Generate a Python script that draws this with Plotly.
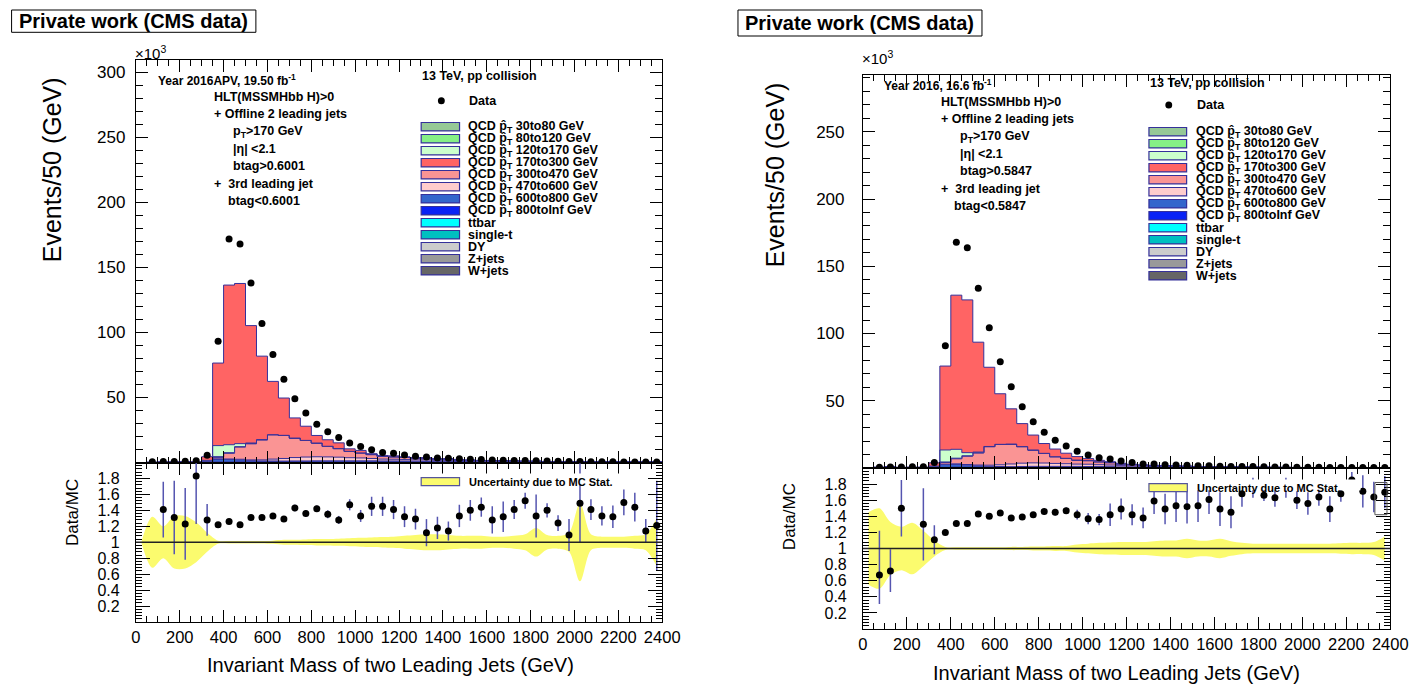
import plotly.graph_objects as go

W, H = 1426, 686
FONT = "Liberation Sans, Arial, Helvetica, sans-serif"
NB = 48
EDGES = list(range(0, 2401, 50))
CENTERS = [e + 25 for e in EDGES[:-1]]

# ---------------- LEFT panel (2016APV) : events x10^3 ----------------
L_data = [None, 0.55, 0.8, 0.85, 1.0, 1.3, 5.6, 93.3, 172, 168, 138, 107, 83, 64, 49, 38, 29.5, 23.6,
          19.3, 15.0, 12.4, 9.9, 7.7, 7.2, 5.8, 4.9, 4.2, 3.4, 3.3, 2.8, 2.5, 2.3, 2.0, 1.8, 1.6, 1.45,
          1.25, 1.1, 0.95, 0.85, 0.75, 0.65, 0.58, 0.5, 0.45, 0.4, 0.34, 0.3]
L_qcd30 = [0, 0, 0, 0, 0, 0, 0.05, 0.1, 0.08, 0.05, 0, 0, 0, 0, 0, 0, 0, 0, 0, 0, 0, 0, 0, 0,
           0, 0, 0, 0, 0, 0, 0, 0, 0, 0, 0, 0, 0, 0, 0, 0, 0, 0, 0, 0, 0, 0, 0, 0]
L_qcd80 = [0, 0.05, 0.05, 0.05, 0.05, 0.05, 0.1, 0.4, 0.3, 0.15, 0.05, 0, 0, 0, 0, 0, 0, 0, 0, 0, 0, 0, 0, 0,
           0, 0, 0, 0, 0, 0, 0, 0, 0, 0, 0, 0, 0, 0, 0, 0, 0, 0, 0, 0, 0, 0, 0, 0]
L_qcd120 = [0, 0.05, 0.1, 0.1, 0.1, 0.1, 0.7, 8.5, 6.1, 2.3, 0.45, 0.1, 0, 0, 0, 0, 0, 0, 0, 0, 0, 0, 0, 0,
            0, 0, 0, 0, 0, 0, 0, 0, 0, 0, 0, 0, 0, 0, 0, 0, 0, 0, 0, 0, 0, 0, 0, 0]
L_qcd170 = [0, 0.2, 0.4, 0.45, 0.55, 0.5, 2.8, 63.5, 122.8, 123.2, 90.3, 64.2, 41.0, 28.7, 15.5, 10.9,
            5.8, 5.0, 4.4, 1.9, 1.9, 0.7, 0.5, 0.7, 0.55, 0.45, 0.45, 0.3, 0.3, 0.15, 0.12, 0.1, 0.1,
            0.08, 0.06, 0.04, 0.04, 0.04, 0.03, 0.03, 0.01, 0.01, 0.01, 0.01, 0, 0, 0, 0]
L_qcd300 = [0, 0, 0, 0, 0, 0, 0.3, 1.2, 4.5, 9.5, 12.5, 15.5, 18.8, 17.8, 15.0, 12.8, 10.6, 8.2, 6.6,
            4.9, 3.9, 3.0, 2.2, 1.9, 1.6, 1.3, 1.2, 0.9, 0.9, 0.6, 0.5, 0.45, 0.44, 0.38, 0.3, 0.25,
            0.25, 0.2, 0.2, 0.2, 0.12, 0.11, 0.1, 0.09, 0.07, 0.06, 0.07, 0.06]
L_qcd470 = [0, 0, 0, 0, 0, 0, 0, 0.2, 0.3, 0.5, 0.6, 0.8, 1.4, 2.0, 2.6, 3.0, 3.1, 3.0, 2.8, 2.4, 2.2,
            1.8, 1.4, 1.3, 1.1, 1.0, 1.0, 0.8, 0.8, 0.6, 0.5, 0.45, 0.44, 0.38, 0.32, 0.27, 0.27, 0.22,
            0.22, 0.22, 0.14, 0.13, 0.13, 0.11, 0.09, 0.08, 0.09, 0.07]
L_qcd600 = [0, 0, 0, 0, 0, 0, 0.3, 2.2, 2.0, 1.5, 1.0, 0.7, 0.6, 0.6, 0.7, 0.7, 0.8, 0.8, 0.8, 0.8,
            0.8, 0.8, 0.7, 0.7, 0.7, 0.6, 0.6, 0.5, 0.5, 0.4, 0.35, 0.3, 0.3, 0.26, 0.22, 0.19, 0.19,
            0.16, 0.16, 0.16, 0.11, 0.1, 0.1, 0.08, 0.07, 0.07, 0.07, 0.06]
L_qcd800 = [0, 0, 0, 0, 0, 0, 0, 0, 0, 0.2, 0.2, 0.2, 0.3, 0.3, 0.3, 0.3, 0.3, 0.3, 0.3, 0.3, 0.3,
            0.3, 0.3, 0.3, 0.3, 0.3, 0.35, 0.3, 0.3, 0.25, 0.25, 0.22, 0.22, 0.2, 0.18, 0.16, 0.15,
            0.14, 0.13, 0.14, 0.1, 0.09, 0.09, 0.08, 0.06, 0.06, 0.06, 0.05]
L_ttbar = [0, 0, 0, 0, 0, 0, 0.08, 0.18, 0.18, 0.14, 0.09, 0.12, 0.12, 0.09, 0.09, 0.09, 0.09, 0.09,
           0.09, 0.09, 0.09, 0.09, 0.09, 0.09, 0.07, 0.07, 0.07, 0.05, 0.05, 0.05, 0.04, 0.04, 0.03,
           0.03, 0.03, 0.02, 0.02, 0.02, 0.02, 0.02, 0.01, 0.01, 0.01, 0.01, 0.01, 0.01, 0.01, 0.01]
L_singlet = [0, 0, 0, 0, 0, 0, 0.03, 0.06, 0.06, 0.05, 0.04, 0.05, 0.05, 0.03, 0.03, 0.03, 0.03, 0.03,
             0.03, 0.03, 0.03, 0.03, 0.03, 0.03, 0.02, 0.02, 0.02, 0.01, 0.01, 0.01, 0.01, 0.01, 0.01,
             0.01, 0.01, 0.01, 0.01, 0.01, 0.01, 0.01, 0, 0, 0, 0, 0, 0, 0, 0]
L_dy = [0, 0, 0, 0, 0, 0, 0.03, 0.06, 0.06, 0.04, 0.03, 0.04, 0.04, 0.03, 0.03, 0.02, 0.02, 0.02,
        0.02, 0.02, 0.02, 0.02, 0.02, 0.02, 0.01, 0.01, 0.01, 0.01, 0.01, 0.01, 0.01, 0.01, 0.01,
        0.01, 0, 0, 0, 0, 0, 0, 0, 0, 0, 0, 0, 0, 0, 0]
L_zjets = [0, 0, 0, 0, 0, 0, 0.03, 0.05, 0.05, 0.04, 0.02, 0.05, 0.05, 0.03, 0.03, 0.03, 0.03, 0.03,
           0.03, 0.03, 0.03, 0.03, 0.03, 0.03, 0.02, 0.02, 0.02, 0.02, 0.02, 0.02, 0.01, 0.01, 0.01,
           0.01, 0.01, 0.01, 0.01, 0.01, 0, 0, 0, 0, 0, 0, 0, 0, 0, 0]
L_wjets = [0, 0, 0, 0, 0, 0, 0.03, 0.05, 0.05, 0.03, 0.02, 0.04, 0.04, 0.02, 0.02, 0.03, 0.03, 0.03,
           0.03, 0.03, 0.03, 0.03, 0.03, 0.03, 0.02, 0.02, 0.02, 0.02, 0.02, 0.02, 0.01, 0.01, 0.01,
           0.01, 0.01, 0.01, 0.01, 0.01, 0, 0, 0, 0, 0, 0, 0, 0, 0, 0]
L_ratio = [None, None, 1.41, 1.31, 1.23, 1.83, 1.28, 1.22, 1.26, 1.22, 1.31, 1.31, 1.33, 1.29, 1.43,
           1.36, 1.42, 1.35, 1.28, 1.47, 1.33, 1.45, 1.45, 1.41, 1.32, 1.29, 1.12, 1.18, 1.14, 1.33,
           1.40, 1.44, 1.28, 1.32, 1.41, 1.52, 1.33, 1.40, 1.24, 1.09, 1.49, 1.41, 1.33, 1.32, 1.50,
           1.44, 1.14, 1.21]
L_ratio_err = [0, 0, 0.35, 0.46, 0.45, 0.6, 0.2, 0.02, 0.02, 0.02, 0.02, 0.02, 0.02, 0.03, 0.04, 0.04,
               0.04, 0.05, 0.05, 0.07, 0.075, 0.12, 0.12, 0.12, 0.13, 0.13, 0.17, 0.14, 0.12, 0.14,
               0.13, 0.12, 0.17, 0.19, 0.12, 0.1, 0.27, 0.09, 0.1, 0.2, 0.5, 0.13, 0.12, 0.14, 0.16,
               0.18, 0.15, 0.56]
L_band = [0.0, 0.32, 0.2, 0.33, 0.33, 0.25, 0.12, 0.02, 0.015, 0.015, 0.015, 0.015, 0.02, 0.03, 0.03,
          0.035, 0.04, 0.04, 0.045, 0.05, 0.055, 0.06, 0.065, 0.07, 0.08, 0.09, 0.1, 0.1, 0.09, 0.08,
          0.08, 0.08, 0.07, 0.07, 0.08, 0.1, 0.18, 0.09, 0.08, 0.12, 0.49, 0.1, 0.07, 0.07, 0.07,
          0.08, 0.1, 0.3]

# ---------------- RIGHT panel (2016) : events x10^3 ----------------
R_data = [None, 0.5, 0.8, 0.8, 0.9, 0.9, 4.0, 90.9, 167.8, 163.8, 133.6, 104.3, 79.0, 60.5, 45.6,
          34.4, 26.5, 20.6, 16.4, 12.4, 9.7, 7.7, 6.7, 5.2, 4.0, 3.0, 3.0, 2.5, 2.3, 2.0, 1.75, 1.6,
          1.35, 1.15, 1.2, 1.05, 0.9, 0.8, 0.75, 0.65, 0.56, 0.52, 0.43, 0.44, 0.43, 0.36, 0.31, 0.29]
R_qcd30 = [0, 0, 0, 0, 0, 0, 0.03, 0.1, 0.1, 0.05, 0, 0, 0, 0, 0, 0, 0, 0, 0, 0, 0, 0, 0, 0,
           0, 0, 0, 0, 0, 0, 0, 0, 0, 0, 0, 0, 0, 0, 0, 0, 0, 0, 0, 0, 0, 0, 0, 0]
R_qcd80 = [0, 0.1, 0.15, 0.08, 0.1, 0.1, 0.1, 0.4, 0.3, 0.15, 0.05, 0, 0, 0, 0, 0, 0, 0, 0, 0, 0, 0,
           0, 0, 0, 0, 0, 0, 0, 0, 0, 0, 0, 0, 0, 0, 0, 0, 0, 0, 0, 0, 0, 0, 0, 0, 0, 0]
R_qcd120 = [0, 0.2, 0.25, 0.12, 0.15, 0.15, 0.5, 8.9, 6.6, 2.3, 0.5, 0.1, 0, 0, 0, 0, 0, 0, 0, 0, 0,
            0, 0, 0, 0, 0, 0, 0, 0, 0, 0, 0, 0, 0, 0, 0, 0, 0, 0, 0, 0, 0, 0, 0, 0, 0, 0, 0]
R_qcd170 = [0, 0.45, 0.7, 0.35, 0.45, 0.45, 2.4, 62.4, 114.6, 113.6, 81.7, 58.9, 37.6, 26.2, 17.1,
            11.1, 7.3, 5.7, 3.8, 2.6, 1.5, 1.05, 0.7, 0.5, 0.3, 0.2, 0.2, 0.15, 0.12, 0.1, 0.08,
            0.07, 0.06, 0.05, 0.04, 0.04, 0.03, 0.03, 0.02, 0.02, 0.02, 0.01, 0.01, 0.01, 0.01,
            0.01, 0.01, 0.01]
R_qcd300 = [0, 0, 0, 0, 0, 0, 0.3, 1.2, 3.8, 6.3, 9.1, 13.8, 15.2, 14.8, 12.3, 9.6, 7.2, 5.0, 4.0,
            3.0, 2.7, 2.2, 1.8, 1.3, 1.0, 0.8, 0.7, 0.6, 0.52, 0.45, 0.4, 0.34, 0.3, 0.27, 0.23,
            0.2, 0.18, 0.16, 0.15, 0.13, 0.12, 0.11, 0.1, 0.09, 0.08, 0.07, 0.06, 0.06]
R_qcd470 = [0, 0, 0, 0, 0, 0, 0, 0.3, 0.4, 0.5, 0.6, 0.8, 1.3, 2.0, 2.5, 2.6, 2.5, 2.2, 2.0, 1.7,
            1.7, 1.4, 1.2, 0.9, 0.75, 0.6, 0.55, 0.5, 0.45, 0.4, 0.35, 0.3, 0.27, 0.24, 0.21, 0.19,
            0.17, 0.15, 0.14, 0.12, 0.11, 0.1, 0.09, 0.08, 0.07, 0.07, 0.06, 0.05]
R_qcd600 = [0, 0, 0, 0, 0, 0, 0.3, 2.0, 2.0, 1.5, 1.0, 0.6, 0.5, 0.5, 0.6, 0.7, 0.7, 0.7, 0.7, 0.7,
            0.6, 0.6, 0.55, 0.45, 0.4, 0.32, 0.3, 0.27, 0.24, 0.2, 0.18, 0.16, 0.15, 0.13, 0.12,
            0.1, 0.09, 0.08, 0.07, 0.07, 0.06, 0.05, 0.05, 0.04, 0.04, 0.03, 0.03, 0.03]
R_qcd800 = [0, 0, 0, 0, 0, 0, 0, 0, 0.2, 0.2, 0.3, 0.3, 0.3, 0.3, 0.3, 0.3, 0.3, 0.3, 0.3, 0.3, 0.3,
            0.3, 0.3, 0.25, 0.25, 0.2, 0.2, 0.18, 0.16, 0.14, 0.12, 0.11, 0.1, 0.09, 0.08, 0.07,
            0.07, 0.07, 0.06, 0.05, 0.04, 0.04, 0.03, 0.03, 0.03, 0.03, 0.03, 0.02]
R_ttbar = [0, 0, 0, 0, 0, 0, 0.08, 0.2, 0.2, 0.15, 0.12, 0.15, 0.12, 0.08, 0.08, 0.08, 0.08, 0.08,
           0.08, 0.08, 0.08, 0.06, 0.06, 0.04, 0.04, 0.04, 0.03, 0.03, 0.02, 0.02, 0.02, 0.01, 0.01,
           0.01, 0.01, 0.01, 0.01, 0.01, 0.01, 0.01, 0.01, 0, 0, 0, 0, 0, 0, 0]
R_singlet = [0, 0, 0, 0, 0, 0, 0.03, 0.08, 0.08, 0.06, 0.05, 0.06, 0.05, 0.03, 0.03, 0.03, 0.03,
             0.03, 0.03, 0.03, 0.03, 0.02, 0.02, 0.02, 0.02, 0.01, 0.01, 0.01, 0.01, 0.01, 0.01, 0,
             0, 0, 0, 0, 0, 0, 0, 0, 0, 0, 0, 0, 0, 0, 0, 0]
R_dy = [0, 0, 0, 0, 0, 0, 0.03, 0.07, 0.07, 0.06, 0.04, 0.06, 0.04, 0.03, 0.03, 0.03, 0.03, 0.03,
        0.03, 0.03, 0.03, 0.02, 0.02, 0.01, 0.01, 0.01, 0.01, 0, 0, 0, 0, 0, 0, 0, 0, 0, 0, 0, 0,
        0, 0, 0, 0, 0, 0, 0, 0, 0]
R_zjets = [0, 0, 0, 0, 0, 0, 0.03, 0.08, 0.08, 0.07, 0.05, 0.07, 0.05, 0.03, 0.03, 0.03, 0.03, 0.03,
           0.03, 0.03, 0.03, 0.03, 0.03, 0.02, 0.02, 0.01, 0.01, 0.01, 0.01, 0, 0, 0, 0, 0, 0, 0,
           0, 0, 0, 0, 0, 0, 0, 0, 0, 0, 0, 0]
R_wjets = [0, 0, 0, 0, 0, 0, 0.03, 0.07, 0.07, 0.06, 0.04, 0.06, 0.04, 0.03, 0.03, 0.03, 0.03, 0.03,
           0.03, 0.03, 0.03, 0.02, 0.02, 0.02, 0.01, 0.01, 0.01, 0.01, 0, 0, 0, 0, 0, 0, 0, 0, 0,
           0, 0, 0, 0, 0, 0, 0, 0, 0, 0, 0]
R_ratio = [None, 0.67, 0.72, 1.50, None, 1.30, 1.11, 1.20, 1.31, 1.31, 1.43, 1.40, 1.44, 1.38, 1.39,
           1.42, 1.46, 1.45, 1.47, 1.42, 1.37, 1.36, 1.42, 1.49, 1.42, 1.38, 1.59, 1.49, 1.53, 1.52,
           1.53, 1.61, 1.49, 1.45, 1.68, 1.80, 1.66, 1.63, 1.80, 1.60, 1.56, 1.64, 1.49, 1.68, 1.85,
           1.71, 1.64, 1.70]
R_ratio_err_up = [0, 0.55, 0.27, 0.35, 0, 0.45, 0.18, 0.02, 0.02, 0.02, 0.02, 0.02, 0.02, 0.02, 0.03,
                  0.03, 0.04, 0.04, 0.04, 0.06, 0.07, 0.07, 0.14, 0.13, 0.13, 0.13, 0.16, 0.19, 0.2,
                  0.21, 0.2, 0.18, 0.21, 0.2, 0.16, 0.08, 0.07, 0.11, 0.08, 0.11, 0.14, 0.11, 0.16,
                  0.1, 0.1, 0.2, 0.19, 0.2]
R_ratio_err_dn = [0, 0.36, 0.26, 0.35, 0, 0.45, 0.18, 0.02, 0.02, 0.02, 0.02, 0.02, 0.02, 0.02, 0.03,
                  0.03, 0.04, 0.04, 0.04, 0.06, 0.07, 0.07, 0.14, 0.13, 0.13, 0.13, 0.16, 0.19, 0.2,
                  0.21, 0.2, 0.18, 0.21, 0.2, 0.16, 0.17, 0.07, 0.11, 0.17, 0.11, 0.14, 0.11, 0.16,
                  0.1, 0.08, 0.2, 0.19, 0.2]
R_band = [0.45, 0.5, 0.33, 0.27, 0.32, 0.22, 0.1, 0.02, 0.015, 0.015, 0.015, 0.015, 0.015, 0.02, 0.02,
          0.025, 0.025, 0.03, 0.03, 0.05, 0.06, 0.07, 0.075, 0.08, 0.08, 0.08, 0.09, 0.1, 0.1, 0.12,
          0.1, 0.1, 0.12, 0.09, 0.07, 0.06, 0.06, 0.06, 0.06, 0.06, 0.06, 0.06, 0.06, 0.065, 0.07,
          0.07, 0.08, 0.15]
# open box drawn at the last bins of the right ratio pad (x range GeV, ratio range)
R_edge_box = dict(x=[2330, 2385], y=[1.42, 1.82])

for arr in [L_data, L_qcd30, L_qcd80, L_qcd120, L_qcd170, L_qcd300, L_qcd470, L_qcd600, L_qcd800,
            L_ttbar, L_singlet, L_dy, L_zjets, L_wjets, L_ratio, L_ratio_err, L_band,
            R_data, R_qcd30, R_qcd80, R_qcd120, R_qcd170, R_qcd300, R_qcd470, R_qcd600, R_qcd800,
            R_ttbar, R_singlet, R_dy, R_zjets, R_wjets, R_ratio, R_ratio_err_up, R_ratio_err_dn, R_band]:
    assert len(arr) == NB, len(arr)

# ---------------- styling ----------------
OUTLINE = "#35309a"
YELLOW = "#fbfb6e"
ERRC = "#5555b0"
COLORS = {
    "qcd30": "#96c896", "qcd80": "#86f086", "qcd120": "#ccffcc", "qcd170": "#ff6464",
    "qcd300": "#fa9494", "qcd470": "#ffcccc", "qcd600": "#3366cc", "qcd800": "#0a22f5",
    "ttbar": "#00ffff", "singlet": "#00c0c0", "dy": "#cccccc", "zjets": "#999999", "wjets": "#666666",
}
LEGEND = [("qcd30", "QCD p\u0302<sub>T</sub> 30to80 GeV"), ("qcd80", "QCD p\u0302<sub>T</sub> 80to120 GeV"),
          ("qcd120", "QCD p\u0302<sub>T</sub> 120to170 GeV"), ("qcd170", "QCD p\u0302<sub>T</sub> 170to300 GeV"),
          ("qcd300", "QCD p\u0302<sub>T</sub> 300to470 GeV"), ("qcd470", "QCD p\u0302<sub>T</sub> 470to600 GeV"),
          ("qcd600", "QCD p\u0302<sub>T</sub> 600to800 GeV"), ("qcd800", "QCD p\u0302<sub>T</sub> 800toInf GeV"),
          ("ttbar", "ttbar"), ("singlet", "single-t"), ("dy", "DY"), ("zjets", "Z+jets"), ("wjets", "W+jets")]
STACK_ORDER = ["wjets", "zjets", "dy", "singlet", "ttbar", "qcd800", "qcd600", "qcd470", "qcd300",
               "qcd30", "qcd80", "qcd120", "qcd170"]

L_comps = dict(qcd30=L_qcd30, qcd80=L_qcd80, qcd120=L_qcd120, qcd170=L_qcd170, qcd300=L_qcd300,
               qcd470=L_qcd470, qcd600=L_qcd600, qcd800=L_qcd800, ttbar=L_ttbar, singlet=L_singlet,
               dy=L_dy, zjets=L_zjets, wjets=L_wjets)
R_comps = dict(qcd30=R_qcd30, qcd80=R_qcd80, qcd120=R_qcd120, qcd170=R_qcd170, qcd300=R_qcd300,
               qcd470=R_qcd470, qcd600=R_qcd600, qcd800=R_qcd800, ttbar=R_ttbar, singlet=R_singlet,
               dy=R_dy, zjets=R_zjets, wjets=R_wjets)

fig = go.Figure()


def add_stack(comps, xa, ya):
    cum = [0.0] * NB
    for i, key in enumerate(STACK_ORDER):
        cum = [c + v for c, v in zip(cum, comps[key])]
        fig.add_trace(go.Scatter(
            x=EDGES, y=cum + [cum[-1]], mode="lines",
            line=dict(shape="hv", color=OUTLINE, width=1),
            fill="tozeroy" if i == 0 else "tonexty", fillcolor=COLORS[key],
            xaxis=xa, yaxis=ya, showlegend=False, hoverinfo="skip"))


def add_data(data, xa, ya):
    fig.add_trace(go.Scatter(x=CENTERS, y=data, mode="markers",
                             marker=dict(color="black", size=7), xaxis=xa, yaxis=ya,
                             showlegend=False, hoverinfo="skip"))


def add_ratio(ratio, up, dn, band, xa, ya):
    lo = [1 - b for b in band]
    hi = [1 + b for b in band]
    fig.add_trace(go.Scatter(x=CENTERS, y=lo, mode="lines",
                             line=dict(width=0, shape="spline", smoothing=0.9, color=YELLOW),
                             xaxis=xa, yaxis=ya, showlegend=False, hoverinfo="skip"))
    fig.add_trace(go.Scatter(x=CENTERS, y=hi, mode="lines", fill="tonexty", fillcolor=YELLOW,
                             line=dict(width=0, shape="spline", smoothing=0.9, color=YELLOW),
                             xaxis=xa, yaxis=ya, showlegend=False, hoverinfo="skip"))
    # error bars first (invisible markers), then solid markers on top
    fig.add_trace(go.Scatter(x=CENTERS, y=ratio, mode="markers",
                             marker=dict(color="rgba(0,0,0,0)", size=1),
                             error_y=dict(type="data", array=up, arrayminus=dn, color=ERRC,
                                          thickness=1.5, width=0),
                             xaxis=xa, yaxis=ya, showlegend=False, hoverinfo="skip"))
    fig.add_trace(go.Scatter(x=CENTERS, y=ratio, mode="markers",
                             marker=dict(color="black", size=7),
                             xaxis=xa, yaxis=ya, showlegend=False, hoverinfo="skip"))


add_stack(L_comps, "x", "y")
add_data(L_data, "x", "y")
add_ratio(L_ratio, L_ratio_err, L_ratio_err, L_band, "x2", "y2")
add_stack(R_comps, "x3", "y3")
add_data(R_data, "x3", "y3")
add_ratio(R_ratio, R_ratio_err_up, R_ratio_err_dn, R_band, "x4", "y4")
fig.add_shape(type="rect", xref="x4", yref="y4", x0=R_edge_box["x"][0], x1=R_edge_box["x"][1],
              y0=R_edge_box["y"][0], y1=R_edge_box["y"][1], line=dict(color="#555555", width=1),
              fillcolor="rgba(0,0,0,0)")


def px(x, y):
    return x / W, 1 - y / H


def txt(x, y, s, size, bold=True, anchor="left", angle=0):
    fx, fy = px(x, y)
    fig.add_annotation(x=fx, y=fy, xref="paper", yref="paper", showarrow=False,
                       text=("<b>%s</b>" % s) if bold else s, xanchor=anchor, yanchor="middle",
                       textangle=angle, font=dict(family=FONT, size=size, color="black"))


def rect(x0, y0, x1, y1, fill, line="black", lw=1):
    a, b = px(x0, y0)
    c, d = px(x1, y1)
    fig.add_shape(type="rect", xref="paper", yref="paper", x0=a, y0=d, x1=c, y1=b,
                  fillcolor=fill, line=dict(color=line, width=lw))


def circle(x, y, r=3.5):
    a, b = px(x - r, y - r)
    c, d = px(x + r, y + r)
    fig.add_shape(type="circle", xref="paper", yref="paper", x0=a, y0=d, x1=c, y1=b,
                  fillcolor="black", line=dict(color="black", width=0))


PANELS = [
    dict(x0=133, x1=668, top=60, mid=462.5, bot=622, ymax=309.6, yt=[50, 100, 150, 200, 250, 300],
         year="Year 2016APV, 19.50 fb<sup>-1</sup>", tag="0.6001", dy=0),
    dict(x0=872, x1=1408, top=75, mid=468, bot=629, ymax=292.2, yt=[50, 100, 150, 200, 250],
         year="Year 2016, 16.6 fb<sup>-1</sup>", tag="0.5847", dy=5),
]

axis_base = dict(showline=True, linecolor="black", linewidth=1, mirror="ticks", ticks="inside",
                 tickcolor="black", showgrid=False, zeroline=False,
                 tickfont=dict(family=FONT, size=16.5, color="black"))
minor_base = dict(showline=True, linecolor="black", linewidth=1, mirror="ticks", ticks="inside",
                  tickcolor="black", showgrid=False, zeroline=False, showticklabels=False,
                  tickmode="array")
X_MINOR = list(range(0, 2401, 50))
Y_MINOR_MAIN = list(range(0, 311, 10))
Y_MINOR_RATIO = [round(0.04 * i, 2) for i in range(51)]

layout_axes = {}
for k, p in enumerate(PANELS):
    xd = [p["x0"] / W, p["x1"] / W]
    main_yd = [1 - p["mid"] / H, 1 - p["top"] / H]
    rat_yd = [1 - p["bot"] / H, 1 - p["mid"] / H]
    xm, xr = ("x", "x2") if k == 0 else ("x3", "x4")
    ym, yr = ("y", "y2") if k == 0 else ("y3", "y4")

    def nm(a):
        return a[0] + "axis" + a[1:]

    xticks = dict(tickmode="linear", tick0=0, dtick=200, ticklen=12)
    layout_axes[nm(xm)] = dict(axis_base, domain=xd, range=[0, 2400], anchor=ym,
                               showticklabels=False, **xticks)
    layout_axes[nm(xr)] = dict(axis_base, domain=xd, range=[0, 2400], anchor=yr,
                               showticklabels=True, ticklabelstandoff=0, **xticks)
    layout_axes[nm(ym)] = dict(axis_base, domain=main_yd, range=[0, p["ymax"]],
                               anchor=xm, tickmode="array", tickvals=p["yt"],
                               ticktext=[str(v) for v in p["yt"]], ticklen=12,
                               ticklabelstandoff=6 if k == 0 else 14,
                               tickfont=dict(family=FONT, size=17, color="black"))
    rv = [0.2, 0.4, 0.6, 0.8, 1.0, 1.2, 1.4, 1.6, 1.8]
    layout_axes[nm(yr)] = dict(axis_base, domain=rat_yd, range=[0, 2], anchor=xr,
                               tickmode="array", tickvals=rv,
                               ticktext=["0.2", "0.4", "0.6", "0.8", "1", "1.2", "1.4", "1.6", "1.8"],
                               ticklen=14, ticklabelstandoff=12,
                               tickfont=dict(family=FONT, size=16, color="black"))
    # minor-tick overlay axes (one per axis)
    base_n = 5 + 2 * k
    for j, (xa, ya) in enumerate([(xm, ym), (xr, yr)]):
        n = base_n + j
        ox, oy = "x%d" % n, "y%d" % n
        layout_axes["xaxis%d" % n] = dict(minor_base, overlaying=xa, anchor=ya, domain=xd,
                                          range=[0, 2400], tickvals=X_MINOR, ticklen=6)
        ydom = main_yd if j == 0 else rat_yd
        yrng = [0, p["ymax"]] if j == 0 else [0, 2]
        yvals = Y_MINOR_MAIN if j == 0 else Y_MINOR_RATIO
        layout_axes["yaxis%d" % n] = dict(minor_base, overlaying=ya, anchor=xa, domain=ydom,
                                          range=yrng, tickvals=yvals, ticklen=7 if j == 0 else 6)
        fig.add_trace(go.Scatter(x=[None], y=[None], xaxis=ox, yaxis=ya, showlegend=False,
                                 hoverinfo="skip"))
        fig.add_trace(go.Scatter(x=[None], y=[None], xaxis=xa, yaxis=oy, showlegend=False,
                                 hoverinfo="skip"))

    # unity line in the ratio pad
    fig.add_shape(type="line", xref=xr, yref=yr, x0=0, x1=2400, y0=1, y1=1,
                  line=dict(color="#222222", width=1.5), layer="above")

    d = p["dy"]
    # title box
    bx0, bx1 = (6.7, 255) if k == 0 else (745, 993)
    by1 = 32.3 if k == 0 else 36
    rect(bx0, 10, bx1, by1, "white")
    txt((bx0 + bx1) / 2, (10 + by1) / 2, "Private work (CMS data)", 20, anchor="center")
    txt(p["x0"] - 3, 52 + d, "\u00d710<sup>3</sup>", 15, bold=False, anchor="left")
    # axis titles
    txt(48 + (0 if k == 0 else 735), 170 + d, "Events/50 (GeV)", 25, bold=False, anchor="center", angle=-90)
    txt(68 + (0 if k == 0 else 729), 512 + d, "Data/MC", 17, bold=False, anchor="center", angle=-90)
    txt(391.5 + (0 if k == 0 else 738.5), 665 + (0 if k == 0 else 8),
        "Invariant Mass of two Leading Jets (GeV)", 20, bold=False, anchor="center")
    # selection text
    if k == 0:
        xs = dict(a=153, b=210, c=230, d=225)
        ys = [80, 97.3, 114.3, 131.7, 149.3, 166, 184, 200.7]
    else:
        xs = dict(a=891, b=949.5, c=969, d=962.5)
        ys = [84.7, 101.7, 119, 136.7, 154, 170.7, 189, 205.7]
    txt(xs["a"], ys[0], p["year"], 12)
    txt(xs["b"], ys[1], "HLT(MSSMHbb H)&gt;0", 12.5)
    txt(xs["b"], ys[2], "+ Offline 2 leading jets", 12.5)
    txt(xs["c"], ys[3], "p<sub>T</sub>&gt;170 GeV", 12.5)
    txt(xs["c"], ys[4], "|\u03b7| &lt;2.1", 12.5)
    txt(xs["c"], ys[5], "btag&gt;" + p["tag"], 12.5)
    txt(xs["b"], ys[6], "+\u00a0\u00a03rd leading jet", 12.5)
    txt(xs["d"], ys[7], "btag&lt;" + p["tag"], 12.5)
    # legend
    if k == 0:
        lx0, lx1, tx, row0, col_y, data_y = 423, 462, 469, 126.7, 76, 100.7
        ux, uy = 423, 481.7
    else:
        lx0, lx1, tx, row0, col_y, data_y = 1162.7, 1201, 1208.5, 131.7, 82.7, 105
        ux, uy = 1162.7, 487.7
    txt(lx0 - 1, col_y, "13 TeV, pp collision", 12.5)
    circle((lx0 + lx1) / 2 + 1, data_y)
    txt(tx + 1, data_y, "Data", 12.5)
    for j, (key, label) in enumerate(LEGEND):
        yy = row0 + 12 * j
        rect(lx0, yy - 4.2, lx1, yy + 4.2, COLORS[key], line=OUTLINE, lw=1.2)
        txt(tx, yy, label, 12.5)
    # ratio-pad legend: opaque white box (covers points beneath it, as in the original)
    rect(ux - 4, uy - 8.2, ux + 215, uy + 2.6, "white", line="white", lw=0)
    rect(ux, uy - 4, ux + 39, uy + 4, YELLOW, line="#55559a", lw=1.2)
    txt(ux + 47, uy, "Uncertainty due to MC Stat.", 11)

fig.update_layout(width=W, height=H, margin=dict(l=0, r=0, t=0, b=0),
                  paper_bgcolor="white", plot_bgcolor="white", showlegend=False,
                  font=dict(family=FONT, color="black"), **layout_axes)

fig.write_html("out.html")
